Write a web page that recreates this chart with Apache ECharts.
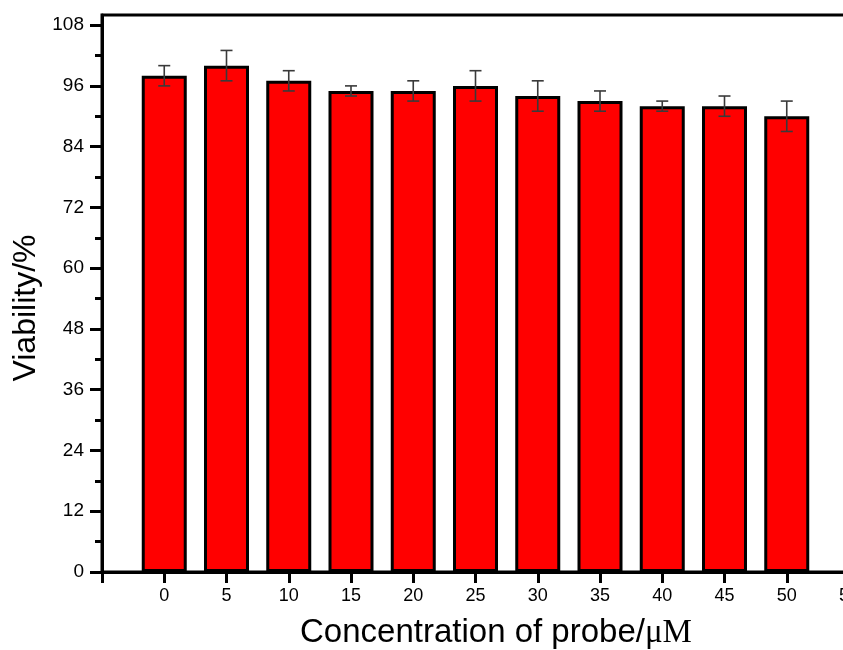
<!DOCTYPE html>
<html>
<head>
<meta charset="utf-8">
<script src="https://cdn.jsdelivr.net/npm/echarts@6/dist/echarts.min.js"></script>
<style>
html,body{margin:0;padding:0;background:#fff;}
#chart{width:843px;height:650px;}
</style>
</head>
<body>
<div id="chart"></div>
<script>
const concentrations = [0, 5, 10, 15, 20, 25, 30, 35, 40, 45, 50];
const viability = [98, 100, 97, 95, 95, 96, 94, 93, 92, 92, 90];
const errors = [2, 3, 2, 1, 2, 3, 3, 2, 1, 2, 3];
const yTickValues = [0, 12, 24, 36, 48, 60, 72, 84, 96, 108];
const yMinorTickValues = [6, 18, 30, 42, 54, 66, 78, 90, 102];
const xTitle = 'Concentration of probe/';
const xUnit = 'μM';
const yTitle = 'Viability/%';

const FONT = "'Liberation Sans', Arial, sans-serif";
const chart = echarts.init(document.getElementById('chart'), null, {renderer: 'canvas'});

const barData = concentrations.map((c, i) => [c, viability[i]]);
const errData = concentrations.map((c, i) => [c, viability[i] - errors[i], viability[i] + errors[i]]);

chart.setOption({
  backgroundColor: '#ffffff',
  animation: false,
  grid: {
    left: 102, right: -6, top: 15, bottom: 78,
    outerBoundsMode: 'none', containLabel: false,
    show: true, borderColor: '#000', borderWidth: 3, backgroundColor: 'transparent'
  },
  xAxis: {
    type: 'value', min: -5, max: 55, interval: 5,
    splitLine: {show: false},
    axisLine: {show: true, onZero: false, lineStyle: {color: '#000', width: 3}},
    axisTick: {show: true, inside: false, length: 11, lineStyle: {color: '#000', width: 3}},
    axisLabel: {
      show: true, margin: 15, color: '#000', fontSize: 18, fontFamily: FONT,
      formatter: v => (concentrations.indexOf(v) >= 0 || v === 55) ? String(v) : ''
    }
  },
  yAxis: [{
    type: 'value', min: 0, max: 110, interval: 12, position: 'left',
    splitLine: {show: false},
    axisLine: {show: true, onZero: false, lineStyle: {color: '#000', width: 3}},
    axisTick: {show: true, inside: false, length: 12, customValues: yTickValues, lineStyle: {color: '#000', width: 3}},
    axisLabel: {show: true, margin: 18, color: '#000', fontSize: 19, fontFamily: FONT, customValues: yTickValues}
  }, {
    type: 'value', min: 0, max: 110, position: 'left', offset: 0,
    splitLine: {show: false},
    axisLine: {show: false, onZero: false},
    axisTick: {show: true, inside: false, length: 7, customValues: yMinorTickValues, lineStyle: {color: '#000', width: 3}},
    axisLabel: {show: false}
  }],
  series: [{
    type: 'bar',
    data: barData,
    barWidth: 45,
    itemStyle: {color: '#ff0000', borderColor: '#000', borderWidth: 3},
    z: 2
  }, {
    type: 'custom',
    data: errData,
    z: 5,
    renderItem: function (params, api) {
      const x = api.value(0);
      const lo = api.coord([x, api.value(1)]);
      const hi = api.coord([x, api.value(2)]);
      const half = 6;
      const style = {stroke: '#3a3a3a', lineWidth: 1.6};
      return {
        type: 'group',
        children: [
          {type: 'line', shape: {x1: hi[0], y1: hi[1], x2: lo[0], y2: lo[1]}, style: style},
          {type: 'line', shape: {x1: hi[0] - half, y1: hi[1], x2: hi[0] + half, y2: hi[1]}, style: style},
          {type: 'line', shape: {x1: lo[0] - half, y1: lo[1], x2: lo[0] + half, y2: lo[1]}, style: style}
        ]
      };
    }
  }],
  graphic: [{
    type: 'text',
    x: 496, y: 633,
    style: {
      text: '{a|' + xTitle + '}{b|' + xUnit + '}',
      align: 'center', verticalAlign: 'middle',
      rich: {
        a: {fontSize: 33, fontFamily: FONT, fill: '#000'},
        b: {fontSize: 33, fontFamily: "'Liberation Serif', 'Times New Roman', serif", fill: '#000'}
      }
    }
  }, {
    type: 'text',
    x: 26, y: 308,
    rotation: Math.PI / 2,
    style: {
      text: yTitle, align: 'center', verticalAlign: 'middle',
      fontSize: 32, fontFamily: FONT, fill: '#000'
    }
  }]
});
</script>
</body>
</html>
